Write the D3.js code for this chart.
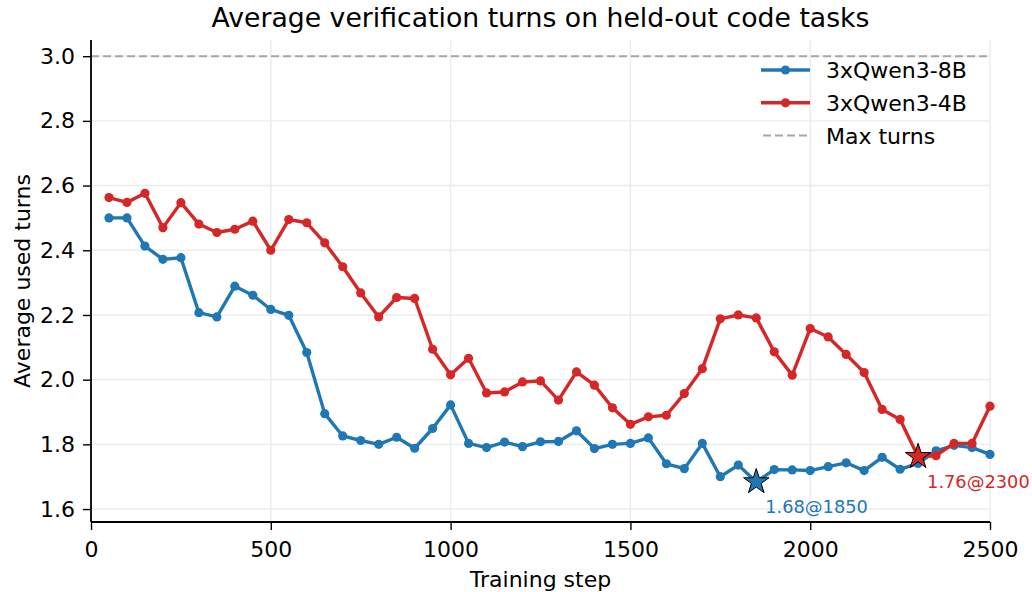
<!DOCTYPE html>
<html><head><meta charset="utf-8">
<script src="https://cdn.jsdelivr.net/npm/d3@7"></script>
<style>body{margin:0;background:#fff;} svg{display:block;font-family:"DejaVu Sans",sans-serif;}</style>
</head><body>
<svg id="chart" width="1032" height="592"></svg>
<script>
const steps = d3.range(50, 2501, 50);
const qwen8b = [2.50,2.50,2.413,2.372,2.377,2.207,2.194,2.289,2.261,2.217,2.199,2.084,1.895,1.826,1.812,1.800,1.822,1.788,1.849,1.922,
  1.803,1.790,1.807,1.793,1.808,1.809,1.842,1.787,1.800,1.803,1.820,1.740,1.725,1.803,1.700,1.736,1.684,1.722,1.721,1.719,
  1.731,1.743,1.719,1.760,1.723,1.741,1.780,1.797,1.790,1.769];
const qwen4b = [2.563,2.548,2.576,2.470,2.547,2.481,2.455,2.465,2.490,2.400,2.495,2.485,2.423,2.349,2.268,2.194,2.254,2.251,2.094,2.015,
  2.066,1.959,1.962,1.993,1.996,1.937,2.024,1.983,1.913,1.862,1.885,1.890,1.957,2.034,2.188,2.200,2.191,2.086,2.014,2.158,
  2.132,2.078,2.022,1.908,1.877,1.762,1.765,1.803,1.803,1.918];
const seriesNames = ["3xQwen3-8B","3xQwen3-4B"];
const seriesColors = ["#1f77b4","#d62728"];
const maxTurns = 3.0;
const xTicks = [0,500,1000,1500,2000,2500];
const yTicks = [1.6,1.8,2.0,2.2,2.4,2.6,2.8,3.0];
const bestPoints = [{step:1850, value:1.684, label:"1.68@1850"},{step:2300, value:1.762, label:"1.76@2300"}];

const svg = d3.select("#chart");
const L=91, R=990, T=40, B=522;
const x = d3.scaleLinear().domain([0,2500]).range([L,R]);
const y = d3.scaleLinear().domain([1.56,3.05]).range([B,T]);
const FS = 22;

// grid
svg.append("g").selectAll("line").data(xTicks).join("line")
  .attr("x1",d=>x(d)).attr("x2",d=>x(d)).attr("y1",T).attr("y2",B)
  .attr("stroke","#ebebeb").attr("stroke-width",1.4);
svg.append("g").selectAll("line").data(yTicks).join("line")
  .attr("x1",L).attr("x2",R).attr("y1",d=>y(d)).attr("y2",d=>y(d))
  .attr("stroke","#ebebeb").attr("stroke-width",1.4);

// max line
svg.append("line").attr("x1",L).attr("x2",R).attr("y1",y(maxTurns)).attr("y2",y(maxTurns))
  .attr("stroke","#a6a6a6").attr("stroke-width",2).attr("stroke-dasharray","8,4");

// axes
const xAxis = svg.append("g").attr("transform",`translate(0,${B})`)
  .call(d3.axisBottom(x).tickValues(xTicks).tickFormat(d3.format("d")).tickSize(8).tickPadding(11));
const yAxis = svg.append("g").attr("transform",`translate(${L},0)`)
  .call(d3.axisLeft(y).tickValues(yTicks).tickFormat(d3.format(".1f")).tickSize(8).tickPadding(8));
[xAxis,yAxis].forEach(a=>{
  a.selectAll("text").attr("font-size",FS).attr("fill","#000").attr("font-family","DejaVu Sans");
  a.selectAll("line").attr("stroke","#000").attr("stroke-width",1.4);
  a.select(".domain").attr("stroke","#000").attr("stroke-width",1.8);
});
xAxis.select(".domain").attr("d",`M${L},0H${R}`);
yAxis.select(".domain").attr("d",`M0,${B}V${T}`);

// lines
const data = [qwen8b, qwen4b];
const line = d3.line().x((d,i)=>x(steps[i])).y(d=>y(d));
data.forEach((vals,k)=>{
  svg.append("path").datum(vals).attr("d",line).attr("fill","none")
    .attr("stroke",seriesColors[k]).attr("stroke-width",3.4).attr("stroke-linejoin","round");
  svg.append("g").selectAll("circle").data(vals).join("circle")
    .attr("cx",(d,i)=>x(steps[i])).attr("cy",d=>y(d)).attr("r",4.6).attr("fill",seriesColors[k]);
});

// stars
const star = d3.symbol().type(d3.symbolStar).size(200);
bestPoints.forEach((p,k)=>{
  svg.append("path").attr("d",star).attr("transform",`translate(${x(p.step)},${y(p.value)})`)
    .attr("fill",seriesColors[k]).attr("stroke","#000").attr("stroke-width",1);
  svg.append("text").attr("x",x(p.step)+9).attr("y",y(p.value)+31.5)
    .attr("font-size",17.8).attr("fill",seriesColors[k]).text(p.label);
});

// title & labels
svg.append("text").attr("x",(L+R)/2).attr("y",27).attr("text-anchor","middle")
  .attr("font-size",26.7).text("Average verification turns on held-out code tasks");
svg.append("text").attr("x",(L+R)/2).attr("y",587).attr("text-anchor","middle")
  .attr("font-size",FS).text("Training step");
svg.append("text").attr("transform",`translate(30,${(T+B)/2}) rotate(-90)`).attr("text-anchor","middle")
  .attr("font-size",FS).text("Average used turns");

// legend
const lg = svg.append("g");
const legendItems = [
  {name:seriesNames[0], color:seriesColors[0], dash:null, marker:true},
  {name:seriesNames[1], color:seriesColors[1], dash:null, marker:true},
  {name:"Max turns", color:"#a6a6a6", dash:"8,4", marker:false}
];
legendItems.forEach((it,i)=>{
  const yy = 70 + i*32.8;
  lg.append("line").attr("x1",it.marker?761:763).attr("x2",810).attr("y1",yy).attr("y2",yy)
    .attr("stroke",it.color).attr("stroke-width",it.marker?3.4:2).attr("stroke-dasharray",it.dash);
  if(it.marker) lg.append("circle").attr("cx",785.5).attr("cy",yy).attr("r",4.6).attr("fill",it.color);
  lg.append("text").attr("x",826).attr("y",yy+8).attr("font-size",FS).text(it.name);
});
</script>
</body></html>
